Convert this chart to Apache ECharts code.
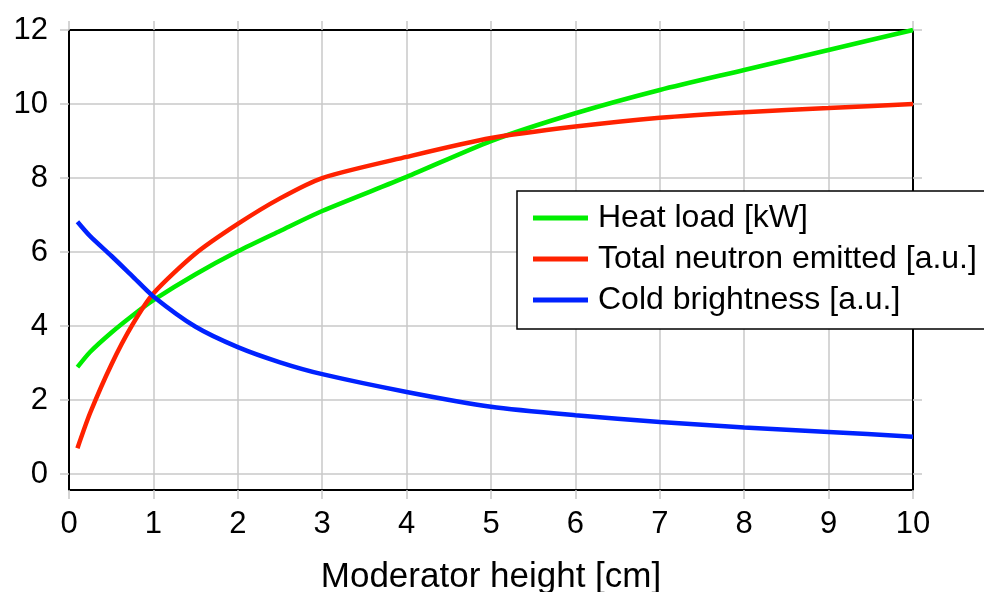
<!DOCTYPE html>
<html>
<head>
<meta charset="utf-8">
<script src="https://cdn.jsdelivr.net/npm/echarts@6/dist/echarts.min.js"></script>
<style>
  html, body { margin: 0; padding: 0; background: #fff; }
  #chart { width: 984px; height: 592px; }
</style>
</head>
<body>
<div id="chart"></div>
<script>
// moderator height [cm]
const heights = [0.1, 0.25, 0.5, 0.75, 1, 1.5, 2, 2.5, 3, 4, 5, 6, 7, 8, 9, 10];
const heatLoad = [2.89, 3.3, 3.82, 4.28, 4.7, 5.4, 6.02, 6.57, 7.11, 8.03, 9.0, 9.75, 10.38, 10.92, 11.46, 12.0];
const neutrons = [0.7, 1.65, 2.95, 4.03, 4.88, 5.96, 6.76, 7.45, 8.0, 8.57, 9.08, 9.39, 9.63, 9.78, 9.89, 10.0];
const brightness = [6.82, 6.43, 5.9, 5.35, 4.8, 3.98, 3.43, 3.02, 2.7, 2.22, 1.82, 1.59, 1.41, 1.26, 1.14, 1.01];
const yTicks = [0, 2, 4, 6, 8, 10, 12];

const FONT = 'Liberation Sans';
const gridGray = '#c8c8c8';

const pair = (ys) => heights.map((x, i) => [x, ys[i]]);

const chart = echarts.init(document.getElementById('chart'));

const lineSeries = (name, color, ys) => ({
  name: name,
  type: 'line',
  data: pair(ys),
  showSymbol: false,
  smooth: 0.25,
  lineStyle: { color: color, width: 4.5 },
  itemStyle: { color: color },
  z: 3
});

chart.setOption({
  animation: false,
  textStyle: { fontFamily: FONT },
  grid: { left: 69, right: 71, top: 30, bottom: 102, containLabel: false, outerBoundsMode: 'none' },
  legend: {
    orient: 'vertical',
    left: 517,
    top: 191,
    icon: 'rect',
    itemWidth: 55,
    itemHeight: 5,
    itemGap: 9,
    padding: [11, 40, 13, 16],
    borderColor: '#000',
    borderWidth: 1.5,
    borderRadius: 0,
    backgroundColor: '#fff',
    textStyle: { fontSize: 32, color: '#000', fontFamily: FONT, padding: [0, 0, 0, 5] },
    data: ['Heat load [kW]', 'Total neutron emitted [a.u.]', 'Cold brightness [a.u.]'],
    z: 10
  },
  xAxis: [{
    type: 'value',
    min: 0,
    max: 10,
    interval: 1,
    name: 'Moderator height [cm]',
    nameLocation: 'middle',
    nameGap: 70,
    nameTextStyle: { fontSize: 35, color: '#000', fontFamily: FONT },
    axisLine: { show: true, onZero: false, lineStyle: { color: '#000', width: 2 } },
    axisTick: { show: true, inside: false, length: 9, lineStyle: { color: gridGray, width: 1.5 } },
    axisLabel: { fontSize: 31, color: '#000', margin: 19, fontFamily: FONT },
    splitLine: { show: true, lineStyle: { color: gridGray, width: 1.5 } }
  }, {
    type: 'value',
    position: 'top',
    min: 0,
    max: 10,
    interval: 1,
    axisLine: { show: true, onZero: false, lineStyle: { color: '#000', width: 2 } },
    axisTick: { show: true, length: 9, lineStyle: { color: gridGray, width: 1.5 } },
    axisLabel: { show: false },
    splitLine: { show: false }
  }],
  yAxis: [{
    type: 'value',
    min: -0.43,
    max: 12,
    axisLine: { show: true, onZero: false, lineStyle: { color: '#000', width: 2 } },
    axisTick: { show: true, length: 9, customValues: yTicks, lineStyle: { color: gridGray, width: 1.5 } },
    axisLabel: { fontSize: 31, color: '#000', margin: 21, customValues: yTicks, fontFamily: FONT },
    splitLine: { show: true, lineStyle: { color: gridGray, width: 1.5 } }
  }, {
    type: 'value',
    position: 'right',
    min: -0.43,
    max: 12,
    axisLine: { show: true, onZero: false, lineStyle: { color: '#000', width: 2 } },
    axisTick: { show: true, length: 9, customValues: yTicks, lineStyle: { color: gridGray, width: 1.5 } },
    axisLabel: { show: false, customValues: yTicks },
    splitLine: { show: false }
  }],
  series: [
    lineSeries('Heat load [kW]', '#00ee00', heatLoad),
    lineSeries('Total neutron emitted [a.u.]', '#ff2200', neutrons),
    lineSeries('Cold brightness [a.u.]', '#0022ff', brightness)
  ]
});
</script>
</body>
</html>
